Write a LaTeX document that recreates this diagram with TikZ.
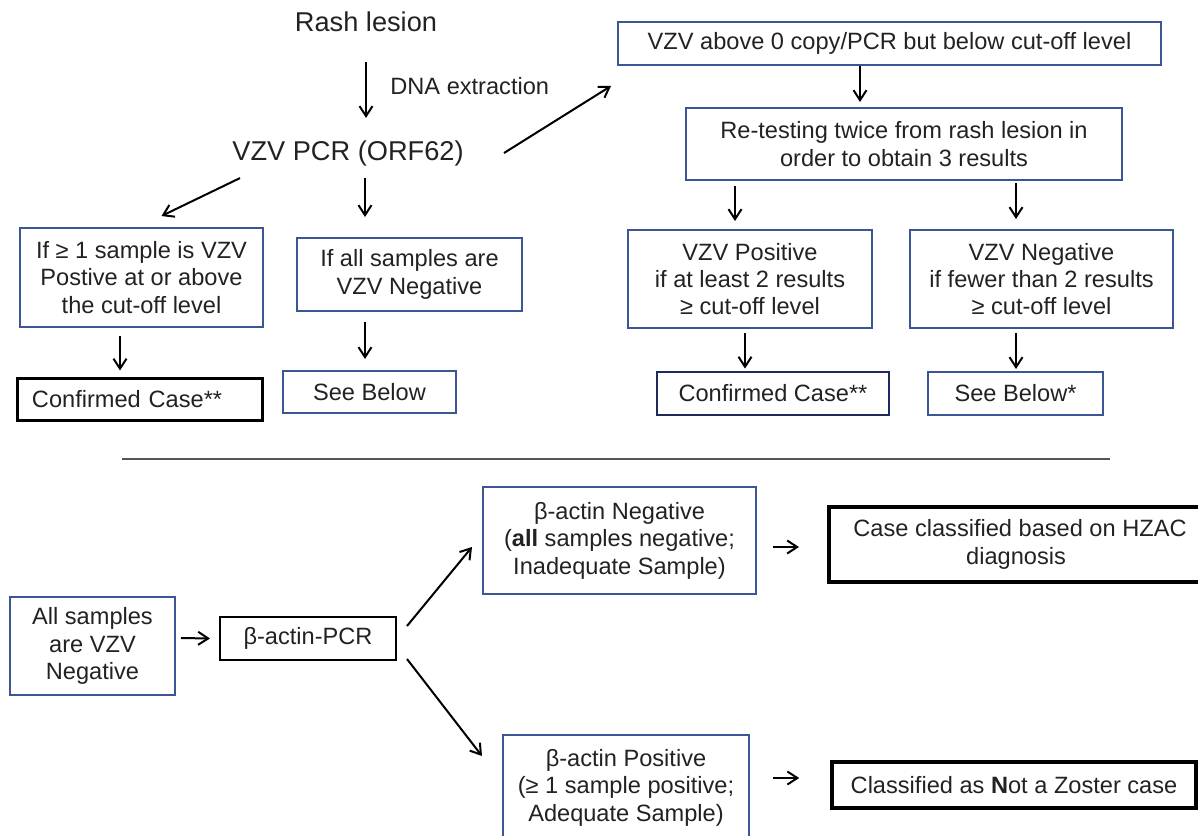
\documentclass[tikz,border=0pt]{standalone}
\usepackage{fontspec}
\setmainfont{Liberation Sans}
\usetikzlibrary{arrows.meta}

\definecolor{boxblue}{HTML}{3C5596}
\definecolor{navy}{HTML}{1F2A5C}
\definecolor{txt}{HTML}{222222}
\definecolor{rule}{HTML}{555555}

\tikzset{
  box/.style={draw=boxblue, line width=1pt, align=center, inner sep=0pt,
    text=txt, font=\fontsize{11.8}{13.7}\selectfont},
  heavybox/.style={box, draw=black, line width=1.7pt},
  big/.style={inner sep=0pt, text=txt, font=\fontsize{13.6}{16}\selectfont},
  lbl/.style={inner sep=0pt, text=txt, font=\fontsize{11.8}{13.7}\selectfont},
  arr/.style={->, line width=1pt},
}

\begin{document}
\begin{tikzpicture}[x=0.5pt, y=-0.5pt, >={Straight Barb[length=5pt,width=6.5pt]}]
  \useasboundingbox (0,0) rectangle (1198,835);

  % upper left
  \node[big] (rash) at (366,22) {Rash lesion};
  \node[big] (pcr) at (348,153) {VZV PCR (ORF62)};
  \node[lbl, anchor=west] (dna) at (390,86) {DNA extraction};
  \node[box, minimum width=121.5pt, minimum height=49.5pt] (pos1) at (141.5,277.5)
    {If ≥ 1 sample is VZV\\Postive at or above\\the cut-off level};
  \node[box, minimum width=112.5pt, minimum height=36.5pt] (neg1) at (409.5,274.5)
    {If all samples are\\VZV Negative};
  \node[heavybox, line width=1.5pt, text width=107.5pt, inner xsep=7.5pt, align=left,
    minimum height=21pt] (conf1) at (139.5,399) {Confirmed Case**};
  \node[box, minimum width=86.5pt, minimum height=21pt] (see1) at (369.5,392) {See Below};

  % upper right
  \node[box, minimum width=271.5pt, minimum height=21.5pt] (above) at (889.5,43.5)
    {VZV above 0 copy/PCR but below cut-off level};
  \node[box, minimum width=218pt, minimum height=36pt] (retest) at (904,144)
    {Re-testing twice from rash lesion in\\order to obtain 3 results};
  \node[box, minimum width=122pt, minimum height=49pt] (pos2) at (750,279)
    {VZV Positive\\if at least 2 results\\≥ cut-off level};
  \node[box, minimum width=131.5pt, minimum height=49pt] (neg2) at (1041.5,279)
    {VZV Negative\\if fewer than 2 results\\≥ cut-off level};
  \node[box, draw=navy, line width=1.4pt, minimum width=116pt, minimum height=21.5pt]
    (conf2) at (773,393.5) {Confirmed Case**};
  \node[box, minimum width=87.5pt, minimum height=21.5pt] (see2) at (1015.5,393.5) {See Below*};

  \draw[arr] ([yshift=-15pt]rash.south) -- ([xshift=9pt,yshift=11pt]pcr.north);
  \draw[arr] ([xshift=20pt]pcr.east) -- ([xshift=-3pt,yshift=-10pt]above.south west);
  \draw[arr] ([xshift=4pt,yshift=-6pt]pcr.south west) -- ([xshift=10pt,yshift=5.5pt]pos1.north);
  \draw[arr] ([xshift=8.5pt,yshift=-6pt]pcr.south) -- ([xshift=-22.25pt,yshift=10pt]neg1.north);
  \draw[arr] ([xshift=-10.75pt,yshift=-4pt]pos1.south) -- ([xshift=-9.75pt,yshift=3pt]conf1.north);
  \draw[arr] ([xshift=-22.25pt,yshift=-5pt]neg1.south) -- ([xshift=-2.25pt,yshift=5.5pt]see1.north);
  \draw[arr] ([xshift=-14.75pt]above.south) -- ([xshift=-22pt,yshift=2.5pt]retest.north);
  \draw[arr] ([xshift=-84.5pt,yshift=-2.5pt]retest.south) -- ([xshift=-7.5pt,yshift=4pt]pos2.north);
  \draw[arr] ([xshift=56pt,yshift=-1pt]retest.south) -- ([xshift=-12.75pt,yshift=5pt]neg2.north);
  \draw[arr] ([xshift=-2.5pt,yshift=-2pt]pos2.south) -- ([xshift=-14pt,yshift=1pt]conf2.north);
  \draw[arr] ([xshift=-12.75pt,yshift=-2pt]neg2.south) -- ([xshift=0.25pt,yshift=1pt]see2.north);

  \draw[rule, line width=1pt] (122,459) -- (1110,459);

  % lower part
  \node[box, minimum width=82.5pt, minimum height=49pt] (allneg) at (92.5,646)
    {All samples\\are VZV\\Negative};
  \node[box, draw=black, minimum width=88pt, minimum height=21.5pt] (actin) at (308,638.5)
    {β-actin-PCR};
  \node[box, minimum width=136.5pt, minimum height=53.5pt] (bneg) at (619.5,540.5)
    {β-actin Negative\\(\textbf{all} samples negative;\\Inadequate Sample)};
  \node[box, minimum width=123pt, minimum height=52.5pt] (bpos) at (626,787.5)
    {β-actin Positive\\(≥ 1 sample positive;\\Adequate Sample)};
  \node[heavybox, line width=2pt, minimum width=187pt, minimum height=37.5pt] (hzac) at (1016,544.5)
    {\hspace*{4pt}Case classified based on HZAC\\diagnosis};
  \node[heavybox, line width=1.8pt, minimum width=182pt, minimum height=23pt] (notz) at (1014,785)
    {Classified as \textbf{N}ot a Zoster case};

  \draw[arr] ([xshift=2.5pt,yshift=4pt]allneg.east) -- ([xshift=-4.5pt]actin.west);
  \draw[arr] ([xshift=5pt,yshift=-5pt]actin.north east) -- ([xshift=-5pt,yshift=-3.25pt]bneg.west);
  \draw[arr] ([xshift=5pt,yshift=1pt]actin.south east) -- ([xshift=-10pt,yshift=-11pt]bpos.north west);
  \draw[arr] ([xshift=8pt,yshift=-3.25pt]bneg.east) -- ([xshift=-14pt,yshift=-1.25pt]hzac.west);
  \draw[arr] ([xshift=11.5pt,yshift=4.75pt]bpos.east) -- ([xshift=-15.5pt,yshift=3.5pt]notz.west);
\end{tikzpicture}
\end{document}
